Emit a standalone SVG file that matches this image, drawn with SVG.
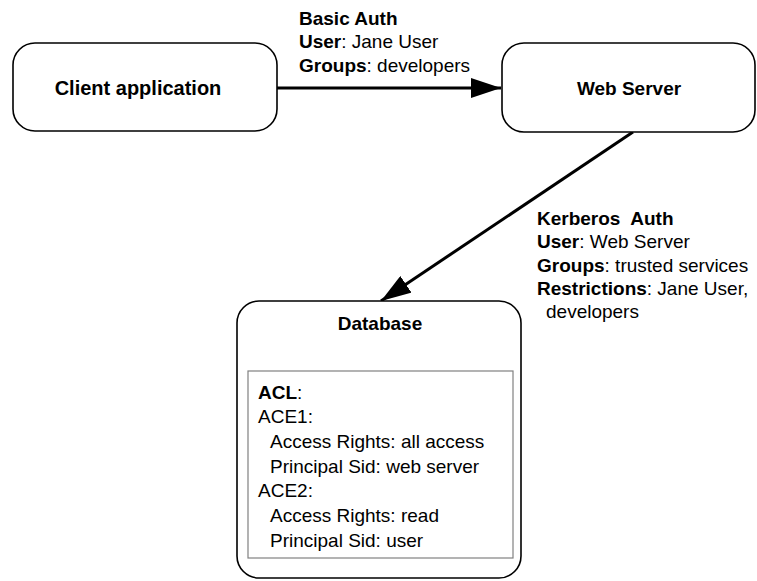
<svg xmlns="http://www.w3.org/2000/svg" width="757" height="581" viewBox="0 0 757 581">
  <defs>
    <marker id="arrow" viewBox="0 0 30 20" refX="30" refY="10" markerWidth="30" markerHeight="20" markerUnits="userSpaceOnUse" orient="auto">
      <path d="M0,0 L30,10 L0,20 Z" fill="#000"/>
    </marker>
    <style>
      .box { fill: #fff; stroke: #000; stroke-width: 1.6; }
      .inner { fill: #fff; stroke: #808080; stroke-width: 1.2; }
      .edge { stroke: #000; stroke-width: 3; fill: none; }
      text { font-family: "Liberation Sans", Arial, sans-serif; font-size: 19px; fill: #000; }
      .title { font-weight: bold; text-anchor: middle; }
      .b { font-weight: bold; }
    </style>
  </defs>
  <rect width="757" height="581" fill="#fff"/>

  <!-- connectors -->
  <g id="connectors">
    <line class="edge" x1="277" y1="88" x2="501" y2="88" marker-end="url(#arrow)"/>
    <line class="edge" x1="633" y1="132" x2="381" y2="301" marker-end="url(#arrow)"/>
    <g id="label-basic">
      <text x="299" y="25" class="b">Basic Auth</text>
      <text x="299" y="48"><tspan class="b">User</tspan>: Jane User</text>
      <text x="299" y="72"><tspan class="b">Groups</tspan>: developers</text>
    </g>
    <g id="label-kerberos">
      <text x="537" y="225" class="b" xml:space="preserve">Kerberos  Auth</text>
      <text x="537" y="248"><tspan class="b">User</tspan>: Web Server</text>
      <text x="537" y="272"><tspan class="b">Groups</tspan>: trusted services</text>
      <text x="537" y="295"><tspan class="b">Restrictions</tspan>: Jane User,</text>
      <text x="546" y="318">developers</text>
    </g>
  </g>

  <!-- client -->
  <g id="client">
    <rect class="box" x="13" y="43" width="264" height="88" rx="22" ry="22"/>
    <text x="138" y="95" class="title" style="font-size:20px">Client application</text>
  </g>

  <!-- web server -->
  <g id="webserver">
    <rect class="box" x="502" y="43" width="253" height="89" rx="22" ry="22"/>
    <text x="629" y="95" class="title">Web Server</text>
  </g>

  <!-- database with its access control list -->
  <g id="database">
    <rect class="box" x="237" y="301" width="284" height="277" rx="22" ry="22"/>
    <text x="380" y="330" class="title">Database</text>
    <rect class="inner" x="248" y="371" width="265" height="187"/>
    <text x="258" y="399"><tspan class="b">ACL</tspan>:</text>
    <text x="258" y="423">ACE1:</text>
    <text x="270" y="448">Access Rights: all access</text>
    <text x="270" y="473">Principal Sid: web server</text>
    <text x="258" y="497">ACE2:</text>
    <text x="270" y="522">Access Rights: read</text>
    <text x="270" y="547">Principal Sid: user</text>
  </g>
</svg>
